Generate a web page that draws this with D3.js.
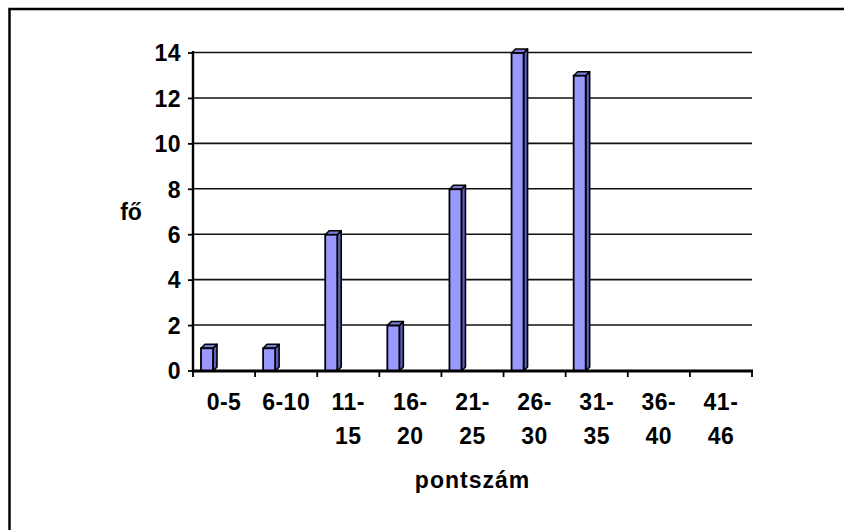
<!DOCTYPE html>
<html>
<head>
<meta charset="utf-8">
<script src="https://cdn.jsdelivr.net/npm/d3@7"></script>
<style>
  body { margin: 0; background: #fff; }
  text { font-family: "Liberation Sans", Arial, sans-serif; font-weight: bold; fill: #000; }
</style>
</head>
<body>
<div id="chart"></div>
<script>
// data
const categories = ["0-5", "6-10", "11-15", "16-20", "21-25", "26-30", "31-35", "36-40", "41-46"];
const tickLines = [["0-5"], ["6-10"], ["11-", "15"], ["16-", "20"], ["21-", "25"], ["26-", "30"], ["31-", "35"], ["36-", "40"], ["41-", "46"]];
const counts = [1, 1, 6, 2, 8, 14, 13, 0, 0];
const yTicks = [0, 2, 4, 6, 8, 10, 12, 14];

const W = 844, H = 530;
const plotLeft = 193, plotRight = 752, plotTop = 53, plotBottom = 371;
const depth = 4;

const svg = d3.select('#chart').append('svg')
    .attr('width', W)
    .attr('height', H);

// outer frame
svg.append('rect')
    .attr('x', 9.5).attr('y', 9)
    .attr('width', 1000).attr('height', 1000)
    .attr('fill', 'none')
    .attr('stroke', '#000')
    .attr('stroke-width', 2.5);

let x = d3.scaleBand()
    .domain(categories)
    .range([plotLeft, plotRight])
    .padding(0);
let y = d3.scaleLinear()
    .domain([0, 14])
    .range([plotBottom, plotTop]);

// gridlines
svg.append('g')
    .selectAll('line')
    .data(yTicks.filter(d => d > 0))
    .enter().append('line')
    .attr('x1', plotLeft).attr('x2', plotRight)
    .attr('y1', d => y(d) - 0.5).attr('y2', d => y(d) - 0.5)
    .attr('stroke', '#111')
    .attr('stroke-width', 1.6);

// bars (pseudo 3D)
const bw = 12;
const bars = svg.append('g').selectAll('g')
    .data(categories.map((c, i) => ({c: c, v: counts[i]})).filter(d => d.v > 0))
    .enter().append('g');

// side face
bars.append('path')
    .attr('d', function(d) {
        const x0 = x(d.c) + 8 + bw, y0 = y(d.v);
        return `M${x0},${y0} L${x0 + depth},${y0 - depth} L${x0 + depth},${plotBottom - depth} L${x0},${plotBottom} Z`;
    })
    .attr('fill', '#5e5ebc')
    .attr('stroke', '#000')
    .attr('stroke-width', 1.6)
    .attr('stroke-linejoin', 'round');

// top face
bars.append('path')
    .attr('d', function(d) {
        const x0 = x(d.c) + 8, y0 = y(d.v);
        return `M${x0},${y0} L${x0 + depth},${y0 - depth} L${x0 + bw + depth},${y0 - depth} L${x0 + bw},${y0} Z`;
    })
    .attr('fill', '#7b7bd8')
    .attr('stroke', '#000')
    .attr('stroke-width', 1.6)
    .attr('stroke-linejoin', 'round');

// front face
bars.append('rect')
    .attr('x', d => x(d.c) + 8)
    .attr('y', d => y(d.v))
    .attr('width', bw)
    .attr('height', d => plotBottom - y(d.v))
    .attr('fill', '#9999ff')
    .attr('stroke', '#000')
    .attr('stroke-width', 1.8);

// y axis
svg.append('line')
    .attr('x1', plotLeft).attr('x2', plotLeft)
    .attr('y1', plotTop - 2).attr('y2', plotBottom + 1)
    .attr('stroke', '#000').attr('stroke-width', 2.4);
svg.append('g').selectAll('line')
    .data(yTicks)
    .enter().append('line')
    .attr('x1', plotLeft - 5).attr('x2', plotLeft)
    .attr('y1', d => y(d)).attr('y2', d => y(d))
    .attr('stroke', '#000').attr('stroke-width', 1.8);
svg.append('g').selectAll('text')
    .data(yTicks)
    .enter().append('text')
    .attr('x', 181)
    .attr('y', d => y(d))
    .attr('dy', '0.36em')
    .attr('text-anchor', 'end')
    .style('font-size', '23px')
    .style('letter-spacing', '0.5px')
    .text(d => d);

// x axis
svg.append('line')
    .attr('x1', plotLeft).attr('x2', plotRight + 1)
    .attr('y1', plotBottom).attr('y2', plotBottom)
    .attr('stroke', '#000').attr('stroke-width', 3.2);
svg.append('g').selectAll('line')
    .data(categories.map(c => x(c)).concat([plotRight]))
    .enter().append('line')
    .attr('x1', d => d).attr('x2', d => d)
    .attr('y1', plotBottom).attr('y2', plotBottom + 6)
    .attr('stroke', '#000').attr('stroke-width', 1.8);

const xl = svg.append('g').selectAll('text')
    .data(categories)
    .enter().append('text')
    .attr('x', d => x(d) + x.bandwidth() / 2)
    .attr('y', 410)
    .attr('text-anchor', 'middle')
    .style('font-size', '23px')
    .style('letter-spacing', '0.5px');
xl.selectAll('tspan')
    .data((d, i) => tickLines[i])
    .enter().append('tspan')
    .attr('x', function() { return this.parentNode.getAttribute('x'); })
    .attr('dy', (d, i) => i === 0 ? 0 : 34)
    .text(d => d);

// axis titles
svg.append('text')
    .attr('x', (plotLeft + plotRight) / 2)
    .attr('y', 488)
    .attr('text-anchor', 'middle')
    .style('font-size', '23px')
    .style('letter-spacing', '1px')
    .text('pontszám');

svg.append('text')
    .attr('x', 131)
    .attr('y', (plotTop + plotBottom) / 2)
    .attr('dy', '0.36em')
    .attr('text-anchor', 'middle')
    .style('font-size', '23px')
    .text('fő');
</script>
</body>
</html>
